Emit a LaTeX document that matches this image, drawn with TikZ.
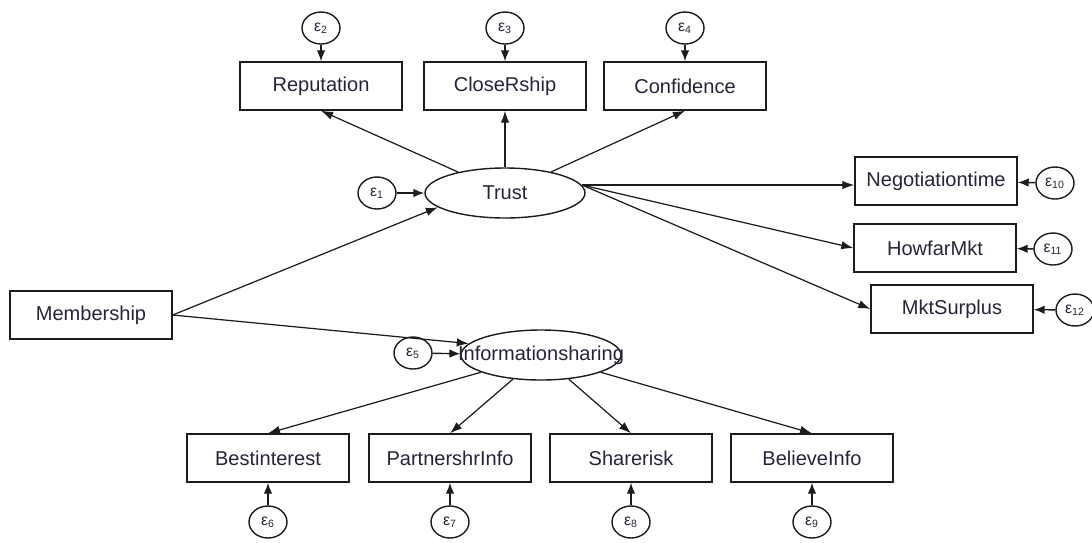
\documentclass[tikz,border=0pt]{standalone}
\usepackage{fontspec}
\setmainfont{Liberation Sans}
\usetikzlibrary{shapes.geometric,arrows.meta}
\definecolor{inkBlack}{HTML}{1C1C1C}
\definecolor{textNavy}{HTML}{25253A}
\tikzset{
    obsbox/.style={draw=inkBlack,fill=white,line width=0.8pt,
        minimum width=3.24cm,minimum height=0.96cm,inner sep=2pt,
        text=textNavy,font=\fontsize{11.4}{13}\selectfont},
    latent/.style={ellipse,draw=inkBlack,fill=white,line width=0.8pt,
        minimum width=3.20cm,minimum height=1.00cm,inner sep=0pt,
        text=textNavy,font=\fontsize{11.4}{13}\selectfont},
    errnode/.style={ellipse,draw=inkBlack,fill=white,line width=0.8pt,
        minimum width=0.76cm,minimum height=0.64cm,inner sep=0pt,
        text=textNavy,font=\fontsize{9}{10}\selectfont},
    effect/.style={-{Latex[length=2.4mm,width=1.7mm]},draw=inkBlack,line width=0.7pt},
    erreffect/.style={-{Latex[length=2.2mm,width=1.7mm]},draw=inkBlack,line width=0.8pt}
}
\newcommand{\eps}[1]{ε\textsubscript{#1}}

\begin{document}
\begin{tikzpicture}
    \useasboundingbox (0,0) rectangle (21.84,-10.84);

    % latente Variablen
    \node[latent] (trust) at (10.10,-3.86) {Trust};
    \node[latent] (info) at (10.82,-7.10) {\makebox[0pt]{Informationsharing}};
    \node[obsbox] (memb) at (1.82,-6.30) {Membership};
    \coordinate (trustout) at (11.64,-3.70);

    % Indikatoren von Trust
    \node[obsbox] (rep) at (6.42,-1.72) {Reputation};
    \node[obsbox] (close) at (10.10,-1.72) {CloseRship};
    \node[obsbox] (conf) at (13.70,-1.72) {Confidence};
    \node[obsbox] (neg) at (18.72,-3.62) {Negotiationtime};
    \node[obsbox] (how) at (18.70,-4.96) {HowfarMkt};
    \node[obsbox] (mkt) at (19.04,-6.18) {MktSurplus};

    % Indikatoren von Informationsharing
    \node[obsbox] (best) at (5.36,-9.16) {Bestinterest};
    \node[obsbox] (partner) at (9.00,-9.16) {PartnershrInfo};
    \node[obsbox] (share) at (12.62,-9.16) {Sharerisk};
    \node[obsbox] (believe) at (16.24,-9.16) {BelieveInfo};

    % Fehlerterme
    \node[errnode] (e1) at (7.54,-3.86) {\eps{1}};
    \node[errnode] (e2) at (6.42,-0.56) {\eps{2}};
    \node[errnode] (e3) at (10.10,-0.56) {\eps{3}};
    \node[errnode] (e4) at (13.70,-0.56) {\eps{4}};
    \node[errnode] (e5) at (8.26,-7.06) {\eps{5}};
    \node[errnode] (e6) at (5.36,-10.44) {\eps{6}};
    \node[errnode] (e7) at (9.00,-10.44) {\eps{7}};
    \node[errnode] (e8) at (12.62,-10.44) {\eps{8}};
    \node[errnode] (e9) at (16.24,-10.44) {\eps{9}};
    \node[errnode] (e10) at (21.10,-3.66) {\eps{10}};
    \node[errnode] (e11) at (21.06,-4.98) {\eps{11}};
    \node[errnode] (e12) at (21.50,-6.20) {\eps{12}};

    % Strukturpfade
    \draw[effect] (memb.east) -- (trust.192);
    \draw[effect] (memb.east) -- (info.171);

    \draw[effect] (trust) -- (rep.south);
    \draw[effect] (trust) -- (close.south);
    \draw[effect] (trust) -- (conf.south);
    \draw[effect] (trustout) -- (trustout -| neg.west);
    \draw[effect] (trustout) -- (how.west);
    \draw[effect] (trustout) -- (mkt.west);

    \draw[effect] (info) -- (best.north);
    \draw[effect] (info) -- (partner.north);
    \draw[effect] (info) -- (share.north);
    \draw[effect] (info) -- (believe.north);

    % Fehlerpfeile
    \draw[erreffect] (e1) -- (trust);
    \draw[erreffect] (e5) -- (info);
    \draw[erreffect] (e2) -- (rep);
    \draw[erreffect] (e3) -- (close);
    \draw[erreffect] (e4) -- (conf);
    \draw[erreffect] (e6) -- (best);
    \draw[erreffect] (e7) -- (partner);
    \draw[erreffect] (e8) -- (share);
    \draw[erreffect] (e9) -- (believe);
    \draw[erreffect] (e10) -- (neg);
    \draw[erreffect] (e11) -- (how);
    \draw[erreffect] (e12) -- (mkt);
\end{tikzpicture}
\end{document}
